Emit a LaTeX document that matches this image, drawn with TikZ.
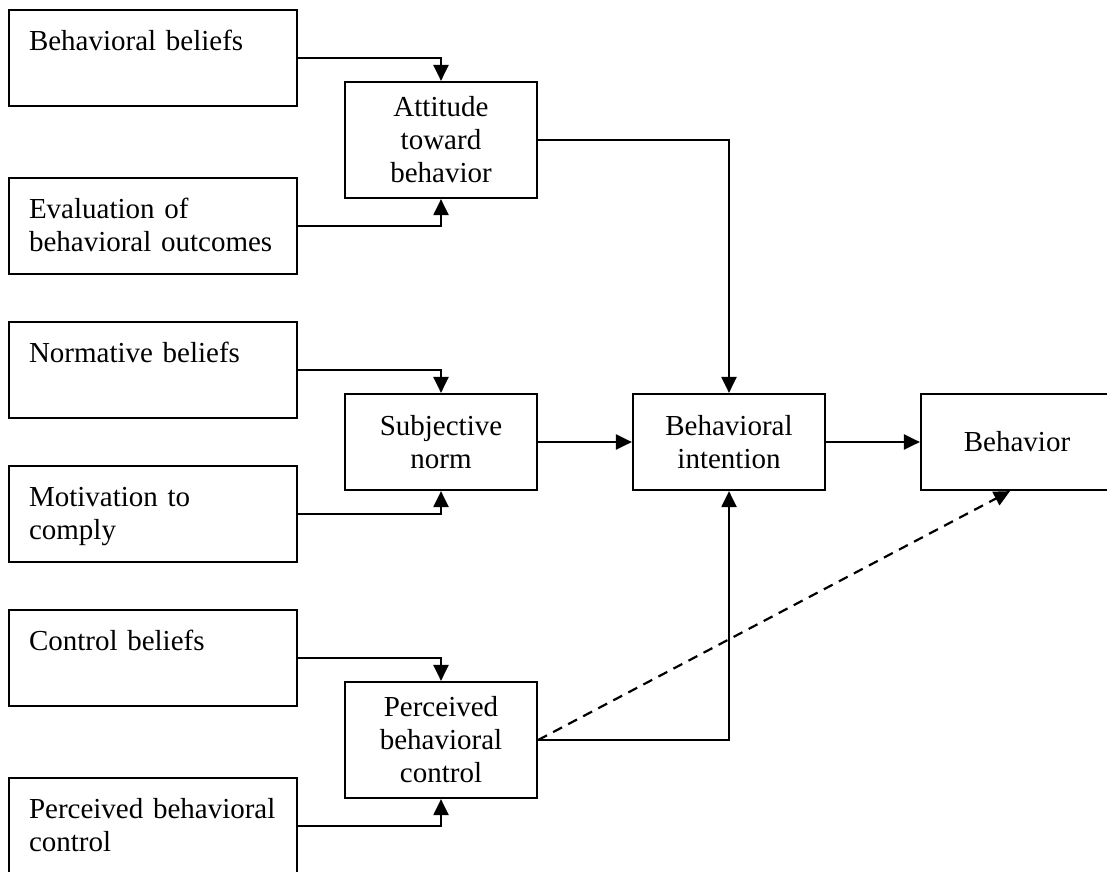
\documentclass[tikz,border=0pt]{standalone}
\usepackage{fontspec}
\setmainfont{Liberation Serif}
\usetikzlibrary{arrows.meta}

\begin{document}
\begin{tikzpicture}[x=1pt, y=-1pt, >={Triangle[length=16pt, width=15pt]}, line width=2.2pt,
    every node/.style={font=\fontsize{29}{33}\selectfont},
    srcbox/.style={draw, text width=248pt, align=left, inner xsep=20pt, inner ysep=0pt, text height=40pt, text depth=56pt},
    midbox/.style={draw, minimum width=192pt, minimum height=#1, align=center, inner sep=0pt},
    midbox/.default=96pt]
    \useasboundingbox (0,0) rectangle (1107,871);
    \clip (0,0) rectangle (1107,871);

    \node[srcbox] (bb) at (153,58) {Behavioral beliefs};
    \node[srcbox] (ev) at (153,226) {Evaluation of\\behavioral outcomes};
    \node[srcbox] (nb) at (153,370) {Normative beliefs};
    \node[srcbox] (mc) at (153,514) {Motivation to\\comply};
    \node[srcbox] (cb) at (153,658) {Control beliefs};
    \node[srcbox] (pb) at (153,826) {Perceived behavioral\\control};

    \node[midbox=116pt] (att) at (441,140) {Attitude\\toward\\behavior};
    \node[midbox] (sn) at (441,442) {Subjective\\norm};
    \node[midbox=116pt] (pbc) at (441,740) {Perceived\\behavioral\\control};

    \node[midbox] (bi) at (729,442) {Behavioral\\intention};
    \node[midbox] (beh) at (1017,442) {Behavior};

    \draw[->] (bb.east) -| (att.north);
    \draw[->] (ev.east) -| (att.south);
    \draw[->] (nb.east) -| (sn.north);
    \draw[->] (mc.east) -| (sn.south);
    \draw[->] (cb.east) -| (pbc.north);
    \draw[->] (pb.east) -| (pbc.south);

    \draw[->] (att.east) -| (bi.north);
    \draw[->] (sn.east) -- (bi.west);
    \draw[->] (pbc.east) -| (bi.south);
    \draw[->] (bi.east) -- (beh.west);
    \draw[->, dash pattern=on 10pt off 7pt] (pbc.east) -- ([xshift=-7pt]beh.south);
\end{tikzpicture}
\end{document}
